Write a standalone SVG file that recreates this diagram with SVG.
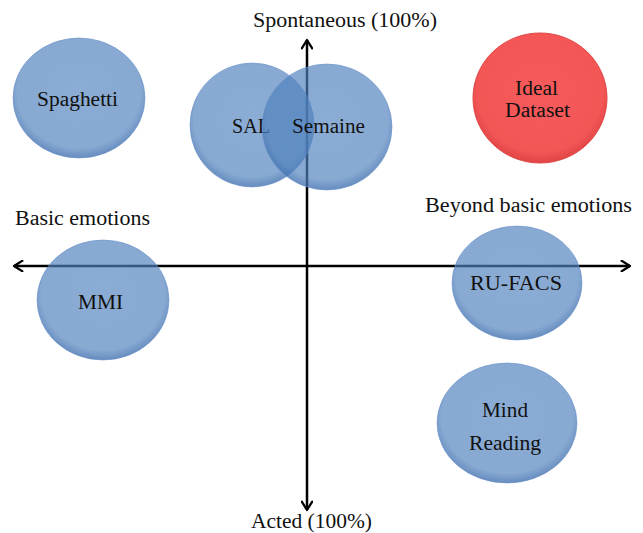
<svg xmlns="http://www.w3.org/2000/svg" width="643" height="533" viewBox="0 0 643 533">
<style>
  .lbl { font-family: "Liberation Serif", "Times New Roman", serif; font-size: 20px; fill: #111; }
  .node { fill: url(#blue); stroke: #6d93cc; stroke-width: 1; stroke-opacity: 0.6; }
  .red { fill: url(#red); stroke: #e04848; stroke-width: 1; }
  .axis { stroke: #000; stroke-width: 2.5; fill: none; }
</style>
<defs>
  <radialGradient id="blue" cx="50%" cy="45%" r="55%">
    <stop offset="0" stop-color="#4F81BD" stop-opacity="0.66"/>
    <stop offset="0.85" stop-color="#4F81BD" stop-opacity="0.68"/>
    <stop offset="1" stop-color="#3f6fae" stop-opacity="0.8"/>
  </radialGradient>
  <radialGradient id="red" cx="50%" cy="45%" r="55%">
    <stop offset="0" stop-color="#f65a5a"/>
    <stop offset="0.85" stop-color="#f45656"/>
    <stop offset="1" stop-color="#e04444"/>
  </radialGradient>
  <marker id="arr" viewBox="0 0 12 12" refX="10" refY="6" markerWidth="5" markerHeight="5" orient="auto-start-reverse" markerUnits="strokeWidth">
    <path d="M2,1 L10,6 L2,11" fill="none" stroke="#000" stroke-width="2.2" stroke-linecap="round" stroke-linejoin="round"/>
  </marker>
</defs>
<rect width="643" height="533" fill="#fff"/>
<g id="connectors">
  <line class="axis" x1="14" y1="266" x2="630" y2="266" marker-start="url(#arr)" marker-end="url(#arr)"/>
  <line class="axis" x1="307" y1="40" x2="307" y2="510" marker-start="url(#arr)" marker-end="url(#arr)"/>
</g>
<g id="axis-labels">
  <text class="lbl" x="253" y="27" textLength="184" lengthAdjust="spacingAndGlyphs">Spontaneous (100%)</text>
  <text class="lbl" x="251" y="528" textLength="121" lengthAdjust="spacingAndGlyphs">Acted (100%)</text>
  <text class="lbl" x="15" y="225" textLength="135" lengthAdjust="spacingAndGlyphs">Basic emotions</text>
  <text class="lbl" x="425" y="212" textLength="207" lengthAdjust="spacingAndGlyphs">Beyond basic emotions</text>
</g>
<g id="spaghetti">
  <ellipse class="node" cx="79" cy="98" rx="66" ry="60"/>
  <text class="lbl" x="37" y="106" textLength="81" lengthAdjust="spacingAndGlyphs">Spaghetti</text>
</g>
<g id="sal">
  <ellipse class="node" cx="252" cy="125" rx="62" ry="62"/>
  <text class="lbl" x="232" y="133" textLength="38" lengthAdjust="spacingAndGlyphs">SAL</text>
</g>
<g id="semaine">
  <ellipse class="node" cx="327" cy="127" rx="65" ry="63"/>
  <text class="lbl" x="292" y="133" textLength="73" lengthAdjust="spacingAndGlyphs">Semaine</text>
</g>
<g id="ideal-dataset">
  <ellipse class="red" cx="540" cy="98" rx="67" ry="65"/>
  <text class="lbl" x="515" y="95" textLength="43" lengthAdjust="spacingAndGlyphs">Ideal</text>
  <text class="lbl" x="505" y="117" textLength="65" lengthAdjust="spacingAndGlyphs">Dataset</text>
</g>
<g id="mmi">
  <ellipse class="node" cx="103" cy="300" rx="66" ry="60"/>
  <text class="lbl" x="78" y="309" textLength="45" lengthAdjust="spacingAndGlyphs">MMI</text>
</g>
<g id="ru-facs">
  <ellipse class="node" cx="517" cy="283" rx="65" ry="57"/>
  <text class="lbl" x="470" y="290" textLength="92" lengthAdjust="spacingAndGlyphs">RU-FACS</text>
</g>
<g id="mind-reading">
  <ellipse class="node" cx="507" cy="423" rx="70" ry="60"/>
  <text class="lbl" x="482" y="417" textLength="46" lengthAdjust="spacingAndGlyphs">Mind</text>
  <text class="lbl" x="469" y="450" textLength="72" lengthAdjust="spacingAndGlyphs">Reading</text>
</g>
</svg>
